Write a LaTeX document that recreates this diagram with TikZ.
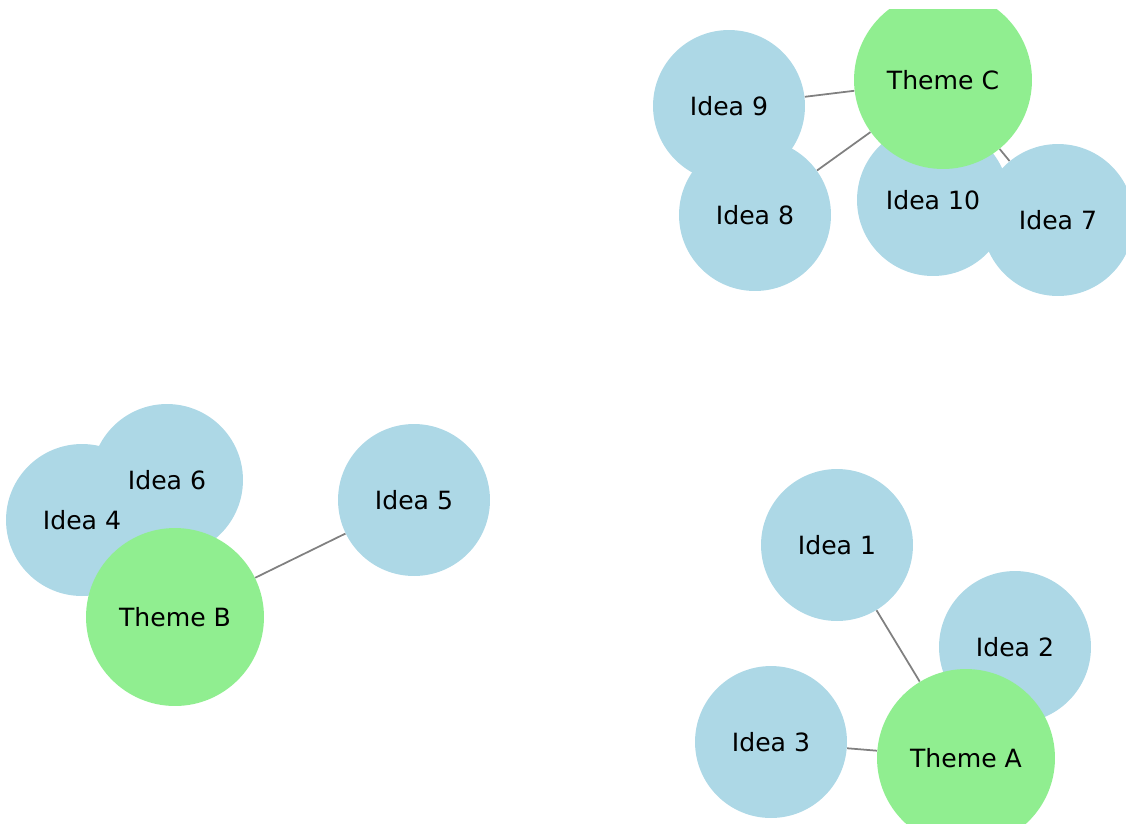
\documentclass[tikz,border=0pt]{standalone}
\usepackage{fontspec}
\setmainfont{DejaVu Sans}
\usetikzlibrary{backgrounds}
\definecolor{ideablue}{HTML}{ADD8E6}
\definecolor{themegreen}{HTML}{90EE90}

\begin{document}
\begin{tikzpicture}[x=0.02cm, y=-0.02cm,
    ideanode/.style={circle, fill=ideablue, minimum size=3.04cm, inner sep=0pt},
    themenode/.style={circle, fill=themegreen, minimum size=3.56cm, inner sep=0pt},
    namenode/.style={inner sep=0pt, font=\fontsize{14.3}{16}\selectfont},
    link/.style={draw=gray, line width=1pt}
    ]
    \useasboundingbox (0,0) rectangle (1126,823);
    \clip (0,9) rectangle (1126,823);

    % Theme C
    \node [ideanode] (i9) at (729,106) {};
    \node [ideanode] (i8) at (755,215) {};
    \node [ideanode] (i10) at (933,200) {};
    \node [themenode] (tc) at (943,80) {};
    \node [ideanode] (i7) at (1058,220) {};

    % Theme B
    \node [ideanode] (i4) at (82,520) {};
    \node [ideanode] (i6) at (167,480) {};
    \node [ideanode] (i5) at (414,500) {};
    \node [themenode] (tb) at (175,617) {};

    % Theme A
    \node [ideanode] (i1) at (837,545) {};
    \node [ideanode] (i2) at (1015,647) {};
    \node [ideanode] (i3) at (771,742) {};
    \node [themenode] (ta) at (966,758) {};

    % labels on top of all circles
    \node [namenode] (l1) at (i1) {Idea 1};
    \node [namenode] (l2) at (i2) {Idea 2};
    \node [namenode] (l3) at (i3) {Idea 3};
    \node [namenode] (l4) at (i4) {Idea 4};
    \node [namenode] (l5) at (i5) {Idea 5};
    \node [namenode] (l6) at (i6) {Idea 6};
    \node [namenode] (l7) at (i7) {Idea 7};
    \node [namenode] (l8) at (i8) {Idea 8};
    \node [namenode] (l9) at (i9) {Idea 9};
    \node [namenode] (l10) at (i10) {Idea 10};
    \node [namenode] (la) at (ta) {Theme A};
    \node [namenode] (lb) at (tb) {Theme B};
    \node [namenode] (lc) at (tc) {Theme C};

    \begin{pgfonlayer}{background}
    \draw [link] (tc) edge (i9);
    \draw [link] (tc) edge (i8);
    \draw [link] (tc) edge (i10);
    \draw [link] (tc) edge (i7);
    \draw [link] (tb) edge (i4);
    \draw [link] (tb) edge (i5);
    \draw [link] (tb) edge (i6);
    \draw [link] (ta) edge (i1);
    \draw [link] (ta) edge (i2);
    \draw [link] (ta) edge (i3);
    \end{pgfonlayer}
\end{tikzpicture}
\end{document}
